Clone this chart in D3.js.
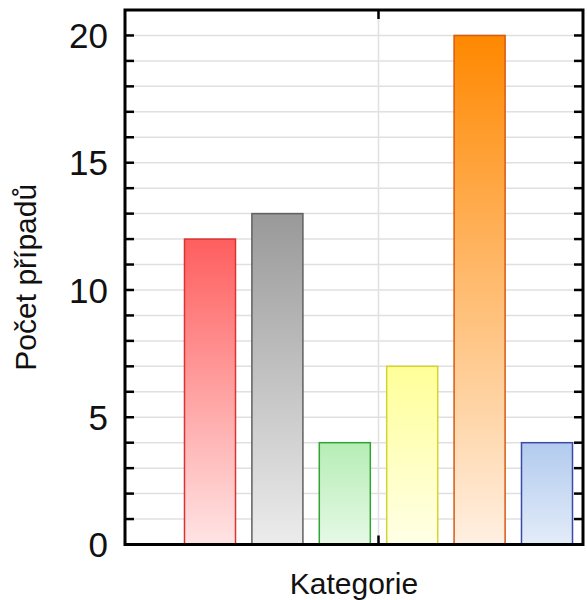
<!DOCTYPE html>
<html>
<head>
<meta charset="utf-8">
<script src="https://cdn.jsdelivr.net/npm/d3@7"></script>
<style>
  html, body { margin: 0; padding: 0; background: #fff; }
  svg { display: block; font-family: "Liberation Sans", Arial, sans-serif; }
</style>
</head>
<body>
<svg id="chart" width="587" height="600"></svg>
<script>
const categories = ['A', 'B', 'C', 'D', 'E', 'F'];
const counts = [12, 13, 4, 7, 20, 4];
const topColors = ['#ff5e5e', '#999999', '#b6edb6', '#ffff99', '#ff8800', '#b2cbee'];
const bottomColors = ['#ffe4e4', '#ececec', '#e6f9e6', '#ffffe6', '#fff0e2', '#e3ecf9'];
const strokeColors = ['#d83434', '#606060', '#30a530', '#d4d42c', '#d65a14', '#3a4aa8'];
const yTicks = [0, 5, 10, 15, 20];

const W = 587, H = 600;
const plot = { left: 125, top: 10, right: 583, bottom: 544.5 };

const svg = d3.select('#chart');

const x = d3.scaleBand()
    .domain(categories)
    .range([176.3, 580.7])
    .paddingInner(0.243)
    .paddingOuter(0.1215);

const y = d3.scaleLinear().domain([0, 21]).range([plot.bottom, plot.top]);

// gradients, one per bar
const defs = svg.append('defs');
categories.forEach((c, i) => {
    const lg = defs.append('linearGradient')
        .attr('id', 'grad' + i)
        .attr('x1', 0).attr('y1', 0).attr('x2', 0).attr('y2', 1);
    lg.append('stop').attr('offset', '0%').attr('stop-color', topColors[i]);
    lg.append('stop').attr('offset', '100%').attr('stop-color', bottomColors[i]);
});

// grid
const minor = d3.range(1, 21);
svg.append('g').selectAll('line')
    .data(minor)
    .join('line')
    .attr('x1', plot.left).attr('x2', plot.right)
    .attr('y1', d => y(d)).attr('y2', d => y(d))
    .attr('stroke', '#e0e0e0').attr('stroke-width', 1.5);

const midX = (x(categories[2]) + x.bandwidth() + x(categories[3])) / 2;
svg.append('line')
    .attr('x1', midX).attr('x2', midX)
    .attr('y1', plot.top).attr('y2', plot.bottom)
    .attr('stroke', '#e0e0e0').attr('stroke-width', 1.5);

// bars
svg.append('g').selectAll('rect')
    .data(counts)
    .join('rect')
    .attr('x', (d, i) => x(categories[i]))
    .attr('width', x.bandwidth())
    .attr('y', d => y(d))
    .attr('height', d => y(0) - y(d))
    .attr('fill', (d, i) => `url(#grad${i})`)
    .attr('stroke', (d, i) => strokeColors[i])
    .attr('stroke-width', 1.5);

// inward ticks on left and right
const tickLen = 9;
const ticks = svg.append('g').attr('stroke', '#000').attr('stroke-width', 2.5);
ticks.selectAll('line.l')
    .data(minor)
    .join('line').attr('class', 'l')
    .attr('x1', plot.left).attr('x2', plot.left + tickLen)
    .attr('y1', d => y(d)).attr('y2', d => y(d));
ticks.selectAll('line.r')
    .data(minor)
    .join('line').attr('class', 'r')
    .attr('x1', plot.right).attr('x2', plot.right - tickLen)
    .attr('y1', d => y(d)).attr('y2', d => y(d));
ticks.append('line')
    .attr('x1', midX).attr('x2', midX)
    .attr('y1', plot.top).attr('y2', plot.top + tickLen);
ticks.append('line')
    .attr('x1', midX).attr('x2', midX)
    .attr('y1', plot.bottom).attr('y2', plot.bottom - tickLen);

// frame
svg.append('rect')
    .attr('x', plot.left).attr('y', plot.top)
    .attr('width', plot.right - plot.left)
    .attr('height', plot.bottom - plot.top)
    .attr('fill', 'none')
    .attr('stroke', '#000')
    .attr('stroke-width', 3);

// y tick labels
svg.append('g').selectAll('text')
    .data(yTicks)
    .join('text')
    .attr('x', plot.left - 17)
    .attr('y', d => y(d))
    .attr('dy', '0.36em')
    .attr('text-anchor', 'end')
    .attr('font-size', 35)
    .attr('fill', '#111')
    .text(d => d);

// axis titles
svg.append('text')
    .attr('x', (plot.left + plot.right) / 2)
    .attr('y', 594)
    .attr('text-anchor', 'middle')
    .attr('font-size', 30)
    .attr('fill', '#111')
    .text('Kategorie');

svg.append('text')
    .attr('transform', `translate(36,${(plot.top + plot.bottom) / 2}) rotate(-90)`)
    .attr('text-anchor', 'middle')
    .attr('font-size', 30)
    .attr('fill', '#111')
    .text('Počet případů');
</script>
</body>
</html>
